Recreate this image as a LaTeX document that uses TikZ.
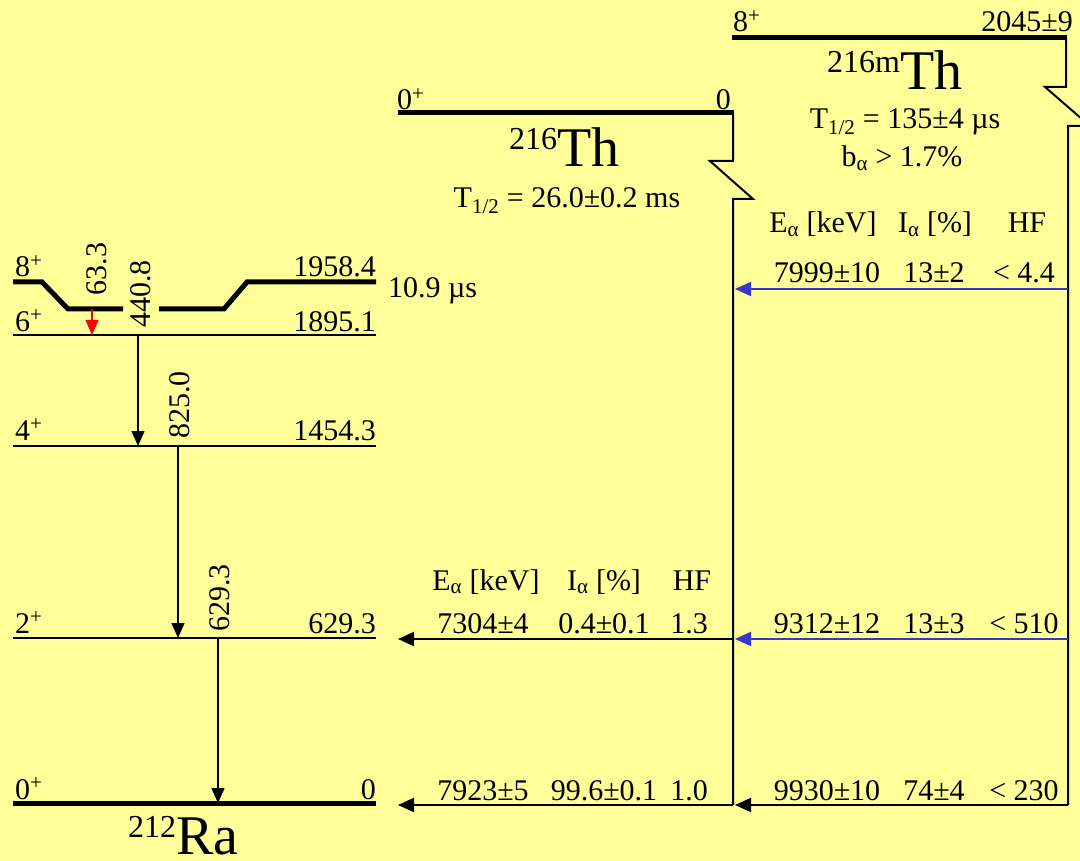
\documentclass[tikz,border=0pt]{standalone}
\usepackage{fontspec}
\setmainfont{Liberation Serif}
\usetikzlibrary{arrows.meta}
\definecolor{bgyellow}{HTML}{FFFF99}
\definecolor{alphablue}{HTML}{3838C8}

\begin{document}
\begin{tikzpicture}[x=1pt, y=-1pt,
  lvl/.style={line width=2pt},
  gslvl/.style={line width=5pt},
  gam/.style={line width=1.6pt, -{Triangle[length=15pt,width=13pt]}},
  alph/.style={line width=2pt, -{Triangle[length=16pt,width=14pt]}},
  lab/.style={font=\fontsize{30}{32}\selectfont, inner sep=0pt},
  big/.style={font=\fontsize{56}{58}\selectfont, inner sep=0pt}]
  \useasboundingbox (0,0) rectangle (1080,861);
  \fill[bgyellow] (0,0) rectangle (1080,861);

  % 212Ra levels
  \draw[gslvl] (13,282) -- (42,282) -- (68,309) -- (123,309);
  \draw[gslvl] (159,309) -- (224,309) -- (247,282) -- (376,282);
  \foreach \n/\y in {ra6/335, ra4/446, ra2/638} {
    \draw[lvl] (13,\y) coordinate (\n w) -- (376,\y) coordinate (\n e);
  }
  \draw[gslvl] (13,803) coordinate (ra0w) -- (376,803) coordinate (ra0e);
  \coordinate (ra8) at (0,309);
  \foreach \n/\y/\j/\e in {s8/277/8/1958.4, s6/331/6/1895.1, s4/440/4/1454.3, s2/633/2/629.3, s0/799/0/0} {
    \node[lab, anchor=base west] (\n-j) at (15,\y) {\j\textsuperscript{+}};
    \node[lab, anchor=base east] (\n-e) at (376,\y) {\e};
  }
  \node[lab, anchor=base west] (iso) at (388,298) {10.9 µs};
  \node[big, anchor=base west] (ra) at (128,854) {\raisebox{17pt}{\fontsize{32}{34}\selectfont 212}Ra};

  % gamma transitions
  \coordinate (x63) at (92,0);
  \coordinate (x440) at (138,0);
  \coordinate (x825) at (178,0);
  \coordinate (x629) at (218,0);
  \draw[gam, red] (x63 |- ra8) -- (x63 |- ra6e);
  \draw[gam] (x440 |- ra6e) -- (x440 |- ra4e);
  \draw[gam] (x825 |- ra4e) -- (x825 |- ra2e);
  \draw[gam] (x629 |- ra2e) -- (x629 |- ra0e);
  \node[lab, rotate=90] (e63) at (97,269) {63.3};
  \node[lab, rotate=90] (e440) at (141,294) {440.8};
  \node[lab, rotate=90] (e825) at (180,405) {825.0};
  \node[lab, rotate=90] (e629) at (220,598) {629.3};

  % 216Th
  \draw[gslvl] (398,113) -- (734,113);
  \node[lab, anchor=base west] (th-j) at (397,110) {0\textsuperscript{+}};
  \node[lab, anchor=base east] (th-e) at (731,110) {0};
  \node[big, anchor=base west] (th) at (509,167) {\raisebox{17pt}{\fontsize{32}{34}\selectfont 216}Th};
  \node[lab, anchor=base] (th-t) at (567,208) {T\textsubscript{1/2} = 26.0±0.2 ms};
  \draw[lvl] (733,113) -- (733,161) -- (710,161) -- (753,199) -- (733,199) -- (733,805);

  % 216mTh
  \draw[gslvl] (732,38) -- (1067,38);
  \node[lab, anchor=base west] (thm-j) at (733,32) {8\textsuperscript{+}};
  \node[lab, anchor=base east] (thm-e) at (1073,32) {2045±9};
  \node[big, anchor=base west] (thm) at (827,90) {\raisebox{17pt}{\fontsize{32}{34}\selectfont 216m}Th};
  \node[lab, anchor=base] (thm-t) at (905,129) {T\textsubscript{1/2} = 135±4 µs};
  \node[lab, anchor=base] (thm-b) at (902,167) {b\textsubscript{α} > 1.7\%};
  \draw[lvl] (1066,38) -- (1066,87) -- (1045,87) -- (1090,126) -- (1068,126) -- (1068,805);

  % alpha branches
  \coordinate (thv) at (733,0);
  \coordinate (thmv) at (1068,0);
  \coordinate (tipm) at (398,0);
  \coordinate (tipr) at (735,0);
  \coordinate (row1) at (0,289);
  \coordinate (row2) at (0,639);
  \coordinate (row3) at (0,805);
  \draw[alph, alphablue] (thmv |- row1) -- (tipr |- row1);
  \draw[alph, alphablue] (thmv |- row2) -- (tipr |- row2);
  \draw[alph] (thmv |- row3) -- (tipr |- row3);
  \draw[alph] (thv |- row2) -- (tipm |- row2);
  \draw[alph] (thv |- row3) -- (tipm |- row3);

  \foreach \n/\y/\xe/\xi/\xh in {hm/590/486/604/692, hr/233/823/935/1027} {
    \node[lab, anchor=base] (\n-e) at (\xe,\y) {E\textsubscript{α} [keV]};
    \node[lab, anchor=base] (\n-i) at (\xi,\y) {I\textsubscript{α} [\%]};
    \node[lab, anchor=base] (\n-h) at (\xh,\y) {HF};
  }
  \foreach \n/\y/\ea/\ia/\hf in {m2/633/7304±4/0.4±0.1/1.3, m3/800/7923±5/99.6±0.1/1.0} {
    \node[lab, anchor=base] (\n-e) at (483,\y) {\ea};
    \node[lab, anchor=base] (\n-i) at (604,\y) {\ia};
    \node[lab, anchor=base] (\n-h) at (689,\y) {\hf};
  }
  \foreach \n/\y/\ea/\ia/\hf in {r1/283/7999±10/13±2/< 4.4, r2/633/9312±12/13±3/< 510, r3/800/9930±10/74±4/< 230} {
    \node[lab, anchor=base] (\n-e) at (827,\y) {\ea};
    \node[lab, anchor=base] (\n-i) at (934,\y) {\ia};
    \node[lab, anchor=base] (\n-h) at (1024,\y) {\hf};
  }
\end{tikzpicture}
\end{document}
